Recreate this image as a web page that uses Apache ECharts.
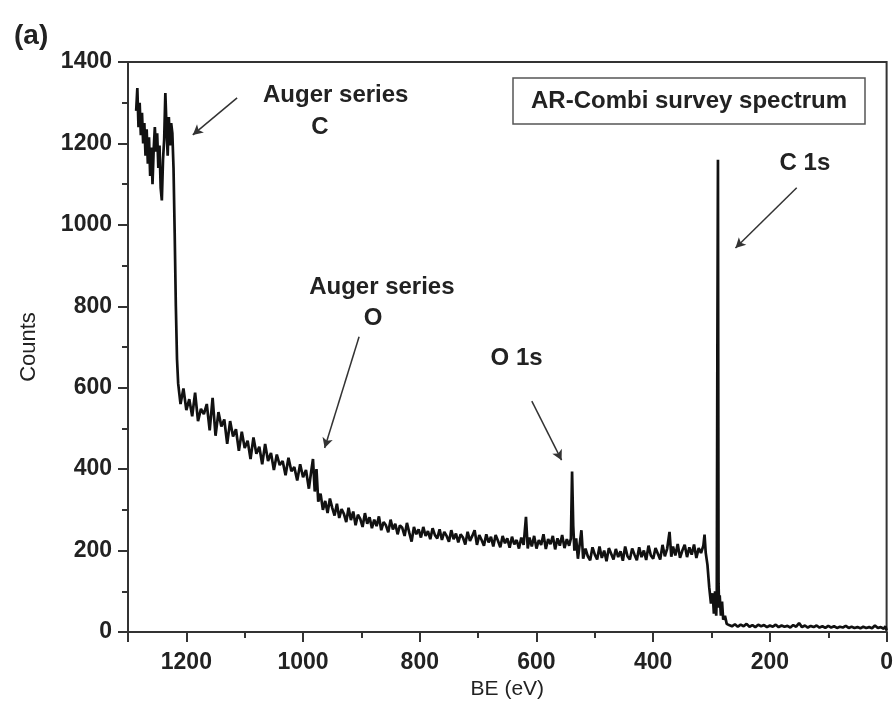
<!DOCTYPE html>
<html>
<head>
<meta charset="utf-8">
<script src="https://cdn.jsdelivr.net/npm/echarts@6/dist/echarts.min.js"></script>
<style>
html,body{margin:0;padding:0;background:#fff;}
#chart{width:896px;height:727px;}
</style>
</head>
<body>
<div id="chart"></div>
<script>
// Spectrum: [binding energy (eV), counts]
const augerCRegion = [
[1286,1280],[1284,1336],[1282,1240],[1280,1300],[1278,1220],[1276,1275],[1274,1200],[1272,1250],[1270,1170],[1268,1235],
[1266,1150],[1264,1215],[1262,1120],[1260,1190],[1258,1100],[1256,1185],[1254,1240],[1252,1180],[1250,1225],[1248,1140],
[1246,1195],[1244,1090],[1242,1060],[1240,1160],[1238,1210],[1236,1324],[1234,1240],[1232,1170],[1230,1265],[1228,1195],
[1226,1250],[1224,1225],[1222,1140],[1220,980],[1218,800],[1216,670],[1214,610],[1212,585]
];
const decayRegion = [
[1210,560],[1205,598],[1200,545],[1195,572],[1190,530],[1185,588],[1180,518],[1175,548],[1170,535],[1165,560],
[1160,495],[1155,575],[1150,482],[1145,540],[1140,505],[1135,522],[1130,462],[1125,518],[1120,480],[1115,498],
[1110,445],[1105,492],[1100,452],[1095,470],[1090,425],[1085,478],[1080,438],[1075,455],[1070,412],[1065,462],
[1060,420],[1055,440],[1050,398],[1045,436],[1040,410],[1035,420],[1030,385],[1025,428],[1020,395],[1015,405],
[1010,372],[1005,412],[1000,380],[995,398],[990,352],[986,395],[983,425],[980,345],[977,400],[974,320],
[970,340],[966,300],[962,322],[958,292],[954,328],[950,305],[946,286],[942,315],[938,280],[934,302],
[930,290],[926,270],[922,305],[918,275],[914,296],[910,262],[906,288],[902,278],[898,258],[894,292],
[890,266],[886,282],[882,255],[878,276],[874,260],[870,284],[866,250],[862,270],[858,262],[854,245],
[850,276],[846,252],[842,266],[838,240],[834,262],[830,256],[826,236],[822,268],[818,244],[814,222],
[810,258],[806,240],[802,252],[798,232],[794,258],[790,236],[786,248],[782,228],[778,255],[774,238],
[770,230],[766,252],[762,226],[758,246],[754,236],[750,222],[746,250],[742,228],[738,242],[734,220],
[730,240],[726,232],[722,215],[718,246],[714,224],[710,236],[706,250],[702,214],[698,238],[694,226],
[690,212],[686,240],[682,220],[678,234],[674,210],[670,238],[666,224],[662,208],[658,236],[654,218],
[650,230],[646,207],[642,234],[638,215],[634,226],[630,205],[626,232],[622,214],[618,283],[615,205],
[612,232],[608,210],[604,236],[600,205],[596,226],[592,214],[588,240],[584,204],[580,228],[576,216],
[572,236],[568,203],[564,230],[560,212],[556,238],[552,206],[548,228],[544,212]
];
const o1sRegion = [
[541,230],[539,394],[537,260],[535,200],[532,230],[529,180],[526,215],[523,250],
[520,180],[516,205],[512,186],[508,176],[504,208],[500,190],[496,178],[492,210],[488,182],[484,200],
[480,174],[476,206],[472,192],[468,178],[464,204],[460,184],[456,198],[452,175],[448,210],[444,186],
[440,178],[436,205],[432,190],[428,176],[424,208],[420,184],[416,200],[412,177],[408,212],[404,188],
[400,180],[396,206],[392,192],[388,178],[384,214],[380,186],[376,205],[372,246],[369,185],[366,210],
[362,188],[358,216],[354,182],[350,200],[346,214],[342,184],[338,208],[334,190],[330,215],[326,182],
[322,206],[318,194],[314,212],[312,239],[310,195]
];
const c1sRegion = [
[307,165],[304,110],[301,70],[298,95],[296,45],[294,100],[292,40],[291,90],[290,700],[289,1160],
[288,120],[287,60],[286,90],[284,40],[282,75],[280,30],[277,40],[274,20],[270,17]
];
const baselineRegion = [
[265,14],[260,19],[255,13],[250,18],[245,14],[240,20],[235,13],[230,17],[225,12],[220,18],
[215,14],[210,17],[205,12],[200,16],[195,13],[190,18],[185,12],[180,16],[175,13],[170,15],
[165,11],[160,17],[155,13],[150,22],[145,12],[140,16],[135,11],[130,15],[125,12],[120,16],
[115,11],[110,14],[105,10],[100,15],[95,11],[90,14],[85,10],[80,13],[75,11],[70,15],
[65,10],[60,13],[55,10],[50,12],[45,9],[40,13],[35,10],[30,12],[25,9],[20,16],
[15,10],[10,12],[5,8],[2,14],[0,4]
];

// Axis tick labels
const xTicks = [1200, 1000, 800, 600, 400, 200, 0];
const yTicks = [0, 200, 400, 600, 800, 1000, 1200, 1400];

// Annotation texts and arrows (data coordinates)
const notes = [
  {text: 'Auger series', at: [944, 1319]},
  {text: 'C', at: [971, 1240]},
  {text: 'Auger series', at: [865, 847]},
  {text: 'O', at: [880, 771]},
  {text: 'O 1s', at: [634, 673]},
  {text: 'C 1s', at: [140, 1152]}
];
const arrows = [
  [[1113, 1312], [1189, 1221]],
  [[154, 1091], [259, 943]],
  [[904, 725], [963, 452]],
  [[608, 567], [557, 422]]
];

const FONT = '"Liberation Sans", Arial, sans-serif';
const data = [].concat(augerCRegion, decayRegion, o1sRegion, c1sRegion, baselineRegion);

const chart = echarts.init(document.getElementById('chart'));
const option = {
  animation: false,
  backgroundColor: '#fff',
  title: {
    text: 'AR-Combi survey spectrum',
    left: 513, top: 78,
    padding: [11, 18],
    borderColor: '#555', borderWidth: 1.5,
    textStyle: {fontFamily: FONT, fontWeight: 'bold', fontSize: 24, color: '#222'}
  },
  grid: {left: 128, right: 9, top: 62, bottom: 95, show: true, borderColor: '#333', borderWidth: 2},
  xAxis: {
    type: 'value', min: 0, max: 1300, interval: 200, inverse: true,
    name: 'BE (eV)', nameLocation: 'middle', nameGap: 47,
    nameTextStyle: {fontFamily: FONT, fontSize: 21, color: '#222'},
    axisLine: {onZero: false, lineStyle: {color: '#333', width: 2}},
    axisTick: {inside: false, length: 10, lineStyle: {color: '#333', width: 2}},
    minorTick: {show: true, splitNumber: 2, length: 6, lineStyle: {color: '#333', width: 2}},
    splitLine: {show: false},
    axisLabel: {
      margin: 19, fontFamily: FONT, fontWeight: 'bold', fontSize: 23, color: '#222',
      formatter: v => (xTicks.indexOf(v) >= 0 ? String(v) : '')
    }
  },
  yAxis: {
    type: 'value', min: 0, max: 1400, interval: 200,
    name: 'Counts', nameLocation: 'middle', nameGap: 88,
    nameTextStyle: {fontFamily: FONT, fontSize: 22, color: '#222'},
    axisLine: {onZero: false, lineStyle: {color: '#333', width: 2}},
    axisTick: {inside: false, length: 10, lineStyle: {color: '#333', width: 2}},
    minorTick: {show: true, splitNumber: 2, length: 6, lineStyle: {color: '#333', width: 2}},
    splitLine: {show: false},
    axisLabel: {
      margin: 16, fontFamily: FONT, fontWeight: 'bold', fontSize: 23, color: '#222',
      formatter: v => (yTicks.indexOf(v) >= 0 ? String(v) : '')
    }
  },
  series: [{
    type: 'line',
    data: data,
    showSymbol: false,
    lineStyle: {color: '#111', width: 2.7},
    markLine: {
      silent: true,
      symbol: ['none', 'arrow'],
      symbolSize: [8, 10],
      label: {show: false},
      lineStyle: {color: '#333', width: 1.5, type: 'solid'},
      data: arrows.map(a => [{coord: a[0]}, {coord: a[1]}])
    }
  }]
};
chart.setOption(option);

const graphics = notes.map(n => {
  const p = chart.convertToPixel({gridIndex: 0}, n.at);
  return {
    type: 'text', x: p[0], y: p[1],
    style: {text: n.text, fill: '#222', font: 'bold 24px ' + FONT, textAlign: 'center', textVerticalAlign: 'middle'}
  };
});
graphics.push({
  type: 'text', left: 14, top: 22,
  style: {text: '(a)', fill: '#222', font: 'bold 28px ' + FONT}
});
chart.setOption({graphic: graphics});
</script>
</body>
</html>
